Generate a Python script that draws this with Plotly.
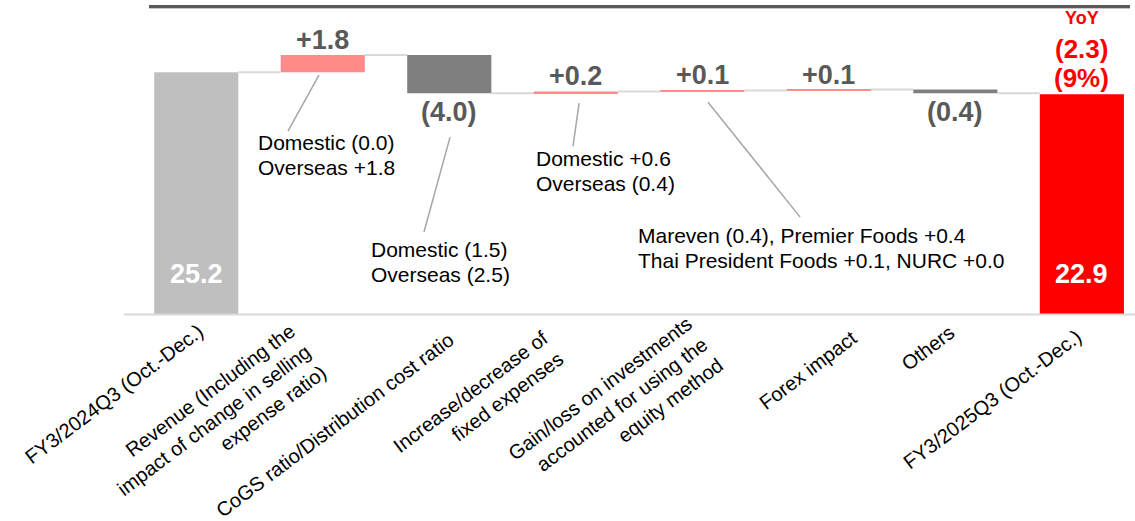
import math
import plotly.graph_objects as go

# Operating profit bridge, FY3/2024Q3 -> FY3/2025Q3 (billion yen)
categories = [
    "FY3/2024Q3 (Oct.-Dec.)",
    "Revenue (Including the<br>impact of change in selling<br>expense ratio)",
    "CoGS ratio/Distribution cost ratio",
    "Increase/decrease of<br>fixed expenses",
    "Gain/loss on investments<br>accounted for using the<br>equity method",
    "Forex impact",
    "Others",
    "FY3/2025Q3 (Oct.-Dec.)",
]
start_value = 25.2
changes = [1.8, -4.0, 0.2, 0.1, 0.1, -0.4]
end_value = 22.9
yoy_change = -2.3
yoy_pct = -9

# breakdown notes: (lines, note x, first-line y, leader x0, leader y0, leader x1, leader y1)
notes = [
    (["Domestic (0.0)", "Overseas +1.8"], 0.472, 17.92, 0.970, 24.9, 0.725, 19.06),
    (["Domestic (1.5)", "Overseas (2.5)"], 1.365, 6.77, 2.006, 18.44, 1.800, 8.54),
    (["Domestic +0.6", "Overseas (0.4)"], 2.670, 16.25, 3.026, 21.98, 2.978, 17.5),
    (["Mareven (0.4), Premier Foods +0.4",
      "Thai President Foods +0.1, NURC +0.0"], 3.476, 8.23, 4.045, 22.08, 4.773, 10.1),
]
NOTE_LINE_GAP = 25  # px between note lines

# category label placement: right end of each rotated label block
# (horizontal offset from the category centre, vertical pixel position)
label_anchor_offsets = [(6, 328), (-13, 348), (3, 336), (-21, 345),
                        (4, 341), (27, 334), (-2, 329), (-1, 333)]

FONT = "Liberation Sans, Arial, sans-serif"
C_START = "#bfbfbf"
C_UP = "#ff8b8b"
C_DOWN = "#7f7f7f"
C_END = "#ff0000"
C_LABEL = "#595959"
BAR_W = 0.665
VALUE_SIZE = 27

W, H = 1135, 521
M_L, M_R, M_T, M_B = 133, 0, 7, 207
X_RANGE = [-0.5, 7.42]
Y_RANGE = [0, 32]
PLOT_W = W - M_L - M_R
PLOT_H = H - M_T - M_B

LABEL_SIZE = 20
LABEL_ANGLE = -37


def fmt(v):
    return f"+{v:.1f}" if v >= 0 else f"({abs(v):.1f})"


def x_px(xv):
    return M_L + (xv - X_RANGE[0]) / (X_RANGE[1] - X_RANGE[0]) * PLOT_W


# bar geometry from the running total
x_idx = list(range(len(categories)))
bases, heights, colors = [0.0], [start_value], [C_START]
levels = [start_value]
level = start_value
for ch in changes:
    bases.append(level)
    heights.append(ch)
    colors.append(C_UP if ch >= 0 else C_DOWN)
    level = round(level + ch, 1)
    levels.append(level)
bases.append(0.0)
heights.append(end_value)
colors.append(C_END)

fig = go.Figure(
    go.Bar(
        x=x_idx,
        y=heights,
        base=bases,
        width=BAR_W,
        marker=dict(color=colors, line=dict(width=0)),
        hoverinfo="skip",
    )
)

shapes = []
# connectors between consecutive bars
for i, lv in enumerate(levels):
    shapes.append(dict(
        type="line", xref="x", yref="y",
        x0=i + BAR_W / 2, x1=i + 1 - BAR_W / 2, y0=lv, y1=lv,
        line=dict(color="#d9d9d9", width=2), layer="below",
    ))

annotations = []
# change labels above / below each step
for i, ch in enumerate(changes, start=1):
    top = bases[i] + max(ch, 0)
    bottom = bases[i] + min(ch, 0)
    annotations.append(dict(
        x=i, y=top if ch >= 0 else bottom, xref="x", yref="y",
        text=f"<b>{fmt(ch)}</b>", showarrow=False,
        yanchor="middle", yshift=15 if ch >= 0 else -19,
        font=dict(family=FONT, size=VALUE_SIZE, color=C_LABEL),
    ))

# totals inside the end bars
for i, v in ((0, start_value), (len(categories) - 1, end_value)):
    annotations.append(dict(
        x=i, y=0, xref="x", yref="y", text=f"<b>{v:.1f}</b>",
        showarrow=False, yanchor="middle", yshift=40,
        font=dict(family=FONT, size=VALUE_SIZE, color="white"),
    ))

# YoY change above the final bar
last = len(categories) - 1
for txt, size, shift in (("YoY", 18, 76), (fmt(yoy_change), 26, 45), (f"({abs(yoy_pct)}%)", 26, 16)):
    annotations.append(dict(
        x=last, y=end_value, xref="x", yref="y", text=f"<b>{txt}</b>",
        showarrow=False, yanchor="middle", yshift=shift,
        font=dict(family=FONT, size=size, color=C_END),
    ))

# breakdown notes with leader lines
for lines, nx, ny, lx0, ly0, lx1, ly1 in notes:
    for k, line in enumerate(lines):
        annotations.append(dict(
            x=nx, y=ny, xref="x", yref="y", text=line, showarrow=False,
            xanchor="left", yanchor="middle", align="left",
            yshift=-k * NOTE_LINE_GAP,
            font=dict(family=FONT, size=21, color="#000000"),
        ))
    shapes.append(dict(
        type="line", xref="x", yref="y", x0=lx0, y0=ly0, x1=lx1, y1=ly1,
        line=dict(color="#a6a6a6", width=1.5),
    ))

# rotated, right-aligned category labels; the rotated box is anchored by
# its right-most and top-most points, derived from the block's right-end midpoint
theta = math.radians(-LABEL_ANGLE)
for i, (label, (dx, ay)) in enumerate(zip(categories, label_anchor_offsets)):
    n_lines = label.count("<br>") + 1
    box_h = (n_lines - 1) * 1.3 * LABEL_SIZE + 1.12 * LABEL_SIZE + 4
    ax = x_px(i) + dx
    right = ax + 0.5 * box_h * math.sin(theta)
    top = ay - 0.5 * box_h * math.cos(theta)
    annotations.append(dict(
        x=(right - M_L) / PLOT_W, y=(M_T + PLOT_H - top) / PLOT_H,
        xref="paper", yref="paper", text=label, showarrow=False,
        textangle=LABEL_ANGLE, xanchor="right", yanchor="top", align="right",
        font=dict(family=FONT, size=LABEL_SIZE, color="#000000"),
    ))

# header rule and baseline
shapes.append(dict(type="line", xref="paper", yref="paper", x0=0.016, x1=0.995,
                   y0=1.0016, y1=1.0016, line=dict(color="#595959", width=3)))
shapes.append(dict(type="line", xref="paper", yref="paper", x0=0.016, x1=0.995,
                   y0=0.9951, y1=0.9951, line=dict(color="#c8c8c8", width=1)))
shapes.append(dict(type="line", xref="paper", yref="paper", x0=-0.009, x1=1.0,
                   y0=-0.002, y1=-0.002, line=dict(color="#d9d9d9", width=2)))

fig.update_layout(
    width=W, height=H,
    margin=dict(l=M_L, r=M_R, t=M_T, b=M_B),
    paper_bgcolor="white", plot_bgcolor="white",
    showlegend=False,
    shapes=shapes,
    annotations=annotations,
    font=dict(family=FONT, color="#000000"),
    xaxis=dict(
        range=X_RANGE, tickmode="array", tickvals=x_idx,
        showticklabels=False, ticks="", showgrid=False, zeroline=False,
        showline=False, fixedrange=True,
    ),
    yaxis=dict(range=Y_RANGE, visible=False, fixedrange=True),
)

fig.write_html("out.html")
